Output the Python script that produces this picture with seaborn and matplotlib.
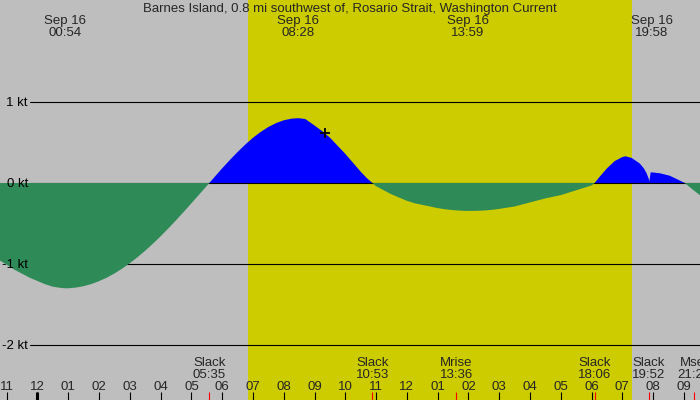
import matplotlib
matplotlib.use('Agg')
import matplotlib.pyplot as plt
import matplotlib.transforms as mtransforms
import numpy as np
import pandas as pd
import seaborn as sns

# tidal current, hours after midnight Sep 16, speed in knots (flood > 0)
hours = [-1.5, -1.25, -1.0, -0.75, -0.5, -0.25, 0.0, 0.25, 0.5, 0.75, 0.9, 1.0, 1.25, 1.5, 1.75,
         2.0, 2.25, 2.5, 2.75, 3.0, 3.25, 3.5, 3.75, 4.0, 4.25, 4.5, 4.75, 5.0, 5.25, 5.583,
         5.75, 6.0, 6.25, 6.5, 6.75, 7.0, 7.25, 7.5, 7.75, 8.0, 8.25, 8.47, 8.7, 8.85, 9.0,
         9.25, 9.5, 9.75, 10.0, 10.25, 10.5, 10.7, 10.883,
         11.0, 11.25, 11.5, 11.75, 12.0, 12.25, 12.5, 12.75, 13.0, 13.25, 13.5, 13.75, 13.98,
         14.25, 14.5, 14.75, 15.0, 15.25, 15.5, 15.75, 16.0, 16.25, 16.5, 16.75, 17.0, 17.25,
         17.5, 17.75, 18.0, 18.1,
         18.27, 18.5, 18.75, 19.0, 19.1, 19.3, 19.57, 19.7, 19.79, 19.86, 19.88, 19.92, 20.0,
         20.22, 20.54, 20.87, 21.03, 21.25, 21.52, 21.8]
speed = [-0.88, -0.95, -1.01, -1.07, -1.12, -1.17, -1.21, -1.25, -1.28, -1.295, -1.30, -1.30, -1.291, -1.274, -1.247,
         -1.212, -1.169, -1.117, -1.057, -0.990, -0.916, -0.836, -0.750, -0.658, -0.561, -0.461, -0.357, -0.251, -0.144, 0.0,
         0.073, 0.181, 0.284, 0.382, 0.474, 0.558, 0.630, 0.691, 0.739, 0.774, 0.794, 0.80, 0.79, 0.75, 0.71,
         0.64, 0.56, 0.46, 0.36, 0.25, 0.14, 0.06, 0.0,
         -0.04, -0.09, -0.14, -0.18, -0.22, -0.25, -0.27, -0.29, -0.31, -0.325, -0.335, -0.342, -0.345,
         -0.344, -0.34, -0.332, -0.32, -0.305, -0.29, -0.265, -0.24, -0.215, -0.19, -0.17, -0.15, -0.12,
         -0.09, -0.06, -0.03, 0.0,
         0.08, 0.18, 0.27, 0.32, 0.33, 0.31, 0.24, 0.18, 0.12, 0.05, 0.02, 0.13, 0.13,
         0.12, 0.09, 0.03, 0.0, -0.07, -0.15, -0.23]

# max current events (top) and slack / moon events (bottom)
max_times = [0.9, 8.467, 13.983, 19.967]
max_labels = ['00:54', '08:28', '13:59', '19:58']
event_times = [5.583, 10.883, 13.6, 18.1, 19.867, 21.333]
event_names = ['Slack', 'Slack', 'Mrise', 'Slack', 'Slack', 'Mset']
event_labels = ['05:35', '10:53', '13:36', '18:06', '19:52', '21:20']

hour_ticks = list(range(-1, 22))
hour_labels = ['11', '12', '01', '02', '03', '04', '05', '06', '07', '08', '09', '10', '11',
               '12', '01', '02', '03', '04', '05', '06', '07', '08', '09']

kt_levels = [1, 0, -1, -2]
sunrise, sunset = 6.84, 19.32
now_hour, now_speed = 9.34, 0.62

title = 'Barnes Island, 0.8 mi southwest of, Rosario Strait, Washington Current'

night = '#bebebe'
day = '#cccc00'
flood = '#0000ff'
ebb = '#2e8b57'

sns.set_theme(style='white', rc={'axes.facecolor': night, 'figure.facecolor': night})
plt.rcParams['font.family'] = ['Liberation Sans', 'DejaVu Sans']
fs = 9.5

df = pd.DataFrame({'hour': hours, 'speed': speed})

fig = plt.figure(figsize=(7, 4), dpi=100)
ax = fig.add_axes([0, 0, 1, 1])
ax.set_xlim(-1.218, 21.524)
ax.set_ylim(-2.679, 2.259)
ax.set_xticks([])
ax.set_yticks([])
for sp in ax.spines.values():
    sp.set_visible(False)

ax.axvspan(sunrise, sunset, color=day, lw=0, zorder=0)

h = df['hour'].to_numpy()
s = df['speed'].to_numpy()
ax.fill_between(h, 0, s, where=s >= 0, interpolate=True, color=flood, lw=0, zorder=2)
ax.fill_between(h, 0, s, where=s <= 0, interpolate=True, color=ebb, lw=0, zorder=4)

# level lines and labels
ytrans = mtransforms.blended_transform_factory(ax.transAxes, ax.transData)
for lvl in kt_levels:
    ax.axhline(lvl, xmin=30 / 700, color='black', lw=0.8, zorder=3 if lvl == 0 else 1)
    ax.text(28 / 700, lvl - 0.055, f'{lvl} kt', transform=ytrans, ha='right',
            va='baseline', fontsize=fs, color='black', zorder=6)

sns.scatterplot(x=[now_hour], y=[now_speed], marker='+', s=45, color='black',
                linewidth=1.3, zorder=5, ax=ax)

# text along the top
xtrans = mtransforms.blended_transform_factory(ax.transData, ax.transAxes)
fig.text(0.5, 1 - 12 / 400, title, ha='center', va='baseline', fontsize=fs)
for t, lab in zip(max_times, max_labels):
    ax.text(t, 1 - 24 / 400, 'Sep 16', transform=xtrans, ha='center', va='baseline', fontsize=fs)
    ax.text(t, 1 - 36 / 400, lab, transform=xtrans, ha='center', va='baseline', fontsize=fs)

# text and ticks along the bottom
for t, name, lab in zip(event_times, event_names, event_labels):
    ax.text(t, 1 - 366.5 / 400, name, transform=xtrans, ha='center', va='baseline', fontsize=fs)
    ax.text(t, 1 - 378.5 / 400, lab, transform=xtrans, ha='center', va='baseline', fontsize=fs)
for t, lab in zip(hour_ticks, hour_labels):
    ax.text(t, 1 - 390 / 400, lab, transform=xtrans, ha='center', va='baseline', fontsize=fs)

ax.vlines(hour_ticks, 0, 8 / 400, transform=xtrans, color='black', lw=0.8, zorder=5)
ax.vlines([0], 0, 8 / 400, transform=xtrans, color='black', lw=2.2, zorder=5)
ax.vlines(event_times, 0, 8 / 400, transform=xtrans, color='red', lw=0.8, zorder=6)

fig.savefig('out.png', dpi=100, facecolor=night)
